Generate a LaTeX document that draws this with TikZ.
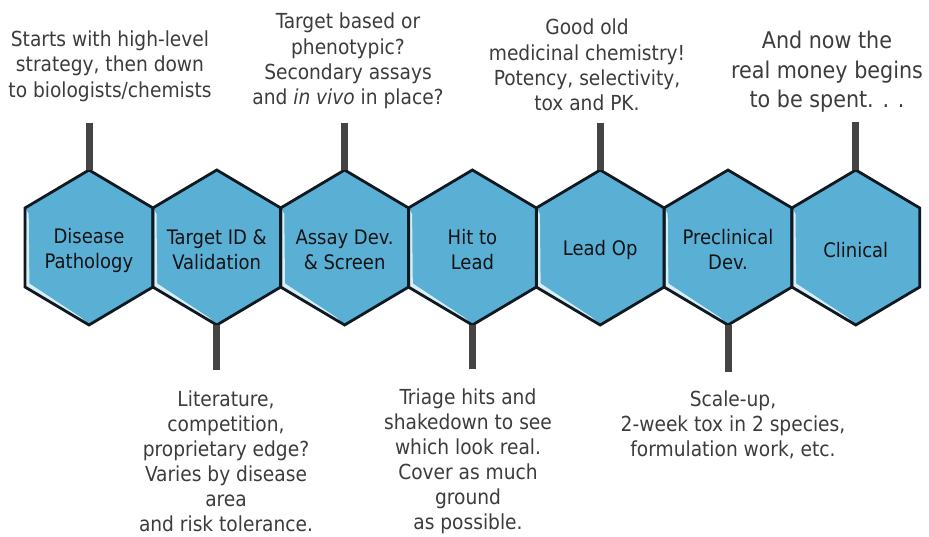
\documentclass[tikz,border=0pt]{standalone}
\usepackage{fontspec}
\setmainfont{DejaVu Sans Condensed}
\definecolor{hexblue}{HTML}{5AAFD5}
\definecolor{hexhi}{HTML}{D8EEF7}
\definecolor{stemgray}{HTML}{444444}
\definecolor{notegray}{HTML}{3C3C3C}
\definecolor{hexedge}{HTML}{101820}
\begin{document}
\begin{tikzpicture}[x=1pt,y=-1pt,
  hexlabel/.style={align=center, inner sep=0pt, font=\fontsize{20}{25}\selectfont, text=black!92},
  note/.style={align=center, inner sep=0pt, font=\fontsize{20.7}{25.3}\selectfont, text=notegray},
  lownote/.style={align=center, inner sep=0pt, font=\fontsize{20.7}{25}\selectfont, text=notegray},
  bignote/.style={align=center, inner sep=0pt, font=\fontsize{23}{29.5}\selectfont, text=notegray},
  stem/.style={draw=stemgray, line width=7pt},
  hexborder/.style={draw=hexedge, line width=2.8pt, line join=miter},
]
\useasboundingbox (0,0) rectangle (929,537);
% hexagon bodies
\foreach \cx in {89,216.8,344.6,472.4,600.2,728,855.8} {
  \fill[hexblue] (\cx,170) -- (\cx+64,208) -- (\cx+64,287) -- (\cx,325) -- (\cx-64,287) -- (\cx-64,208) -- cycle;
  \fill[hexhi] (\cx-62.6,210) -- (\cx-60.3,214) -- (\cx-59.6,283.5) -- (\cx-8,317.5) -- (\cx-1,324) -- (\cx-63,288.5) -- cycle;
}
\foreach \cx in {89,216.8,344.6,472.4,600.2,728,855.8} {
  \draw[hexborder] (\cx,170) -- (\cx+64,208) -- (\cx+64,287) -- (\cx,325) -- (\cx-64,287) -- (\cx-64,208) -- cycle;
}
% hexagon labels
\node[hexlabel] (h1) at (89,250) {Disease\\Pathology};
\node[hexlabel] (h2) at (216.8,250) {Target ID \&\\Validation};
\node[hexlabel] (h3) at (344.6,250) {Assay Dev.\\\& Screen};
\node[hexlabel] (h4) at (472.4,250) {Hit to\\Lead};
\node[hexlabel] (h5) at (600.2,250) {Lead Op};
\node[hexlabel] (h6) at (728,250) {Preclinical\\Dev.};
\node[hexlabel] (h7) at (855.8,250) {Clinical};
% vertices where stems meet hexagons
\coordinate (t1) at (89,170);
\coordinate (t3) at (344.6,170);
\coordinate (t5) at (600.2,170);
\coordinate (t7) at (855.8,170);
\coordinate (b2) at (216.8,325);
\coordinate (b4) at (472.4,325);
\coordinate (b6) at (728,325);
% free ends of stems
\coordinate (e1) at (89,123);
\coordinate (e3) at (344.6,123);
\coordinate (e5) at (600.2,123);
\coordinate (e7) at (855.8,122);
\coordinate (e2) at (216.8,370);
\coordinate (e4) at (472.4,369);
\coordinate (e6) at (728,372);
\draw[stem] (e1) -- (t1);
\draw[stem] (e3) -- (t3);
\draw[stem] (e5) -- (t5);
\draw[stem] (e7) -- (t7);
\draw[stem] (b2) -- (e2);
\draw[stem] (b4) -- (e4);
\draw[stem] (b6) -- (e6);
% notes
\node[note] (n1) at (110,66) {Starts with high-level\\strategy, then down\\to biologists/chemists};
\node[note] (n3) at (348,61) {Target based or\\phenotypic?\\Secondary assays\\and \textit{in vivo} in place?};
\node[note] (n5) at (587,65) {Good old\\medicinal chemistry!\\Potency, selectivity,\\tox and PK.};
\node[bignote] (n7) at (827,72) {And now the\\real money begins\\to be spent. . .};
\node[lownote] (n2) at (226,461) {Literature,\\competition,\\proprietary edge?\\Varies by disease\\area\\and risk tolerance.};
\node[lownote] (n4) at (468,461) {Triage hits and\\shakedown to see\\which look real.\\Cover as much\\ground\\as possible.};
\node[note] (n6) at (733,425) {Scale-up,\\2-week tox in 2 species,\\formulation work, etc.};
\end{tikzpicture}
\end{document}
